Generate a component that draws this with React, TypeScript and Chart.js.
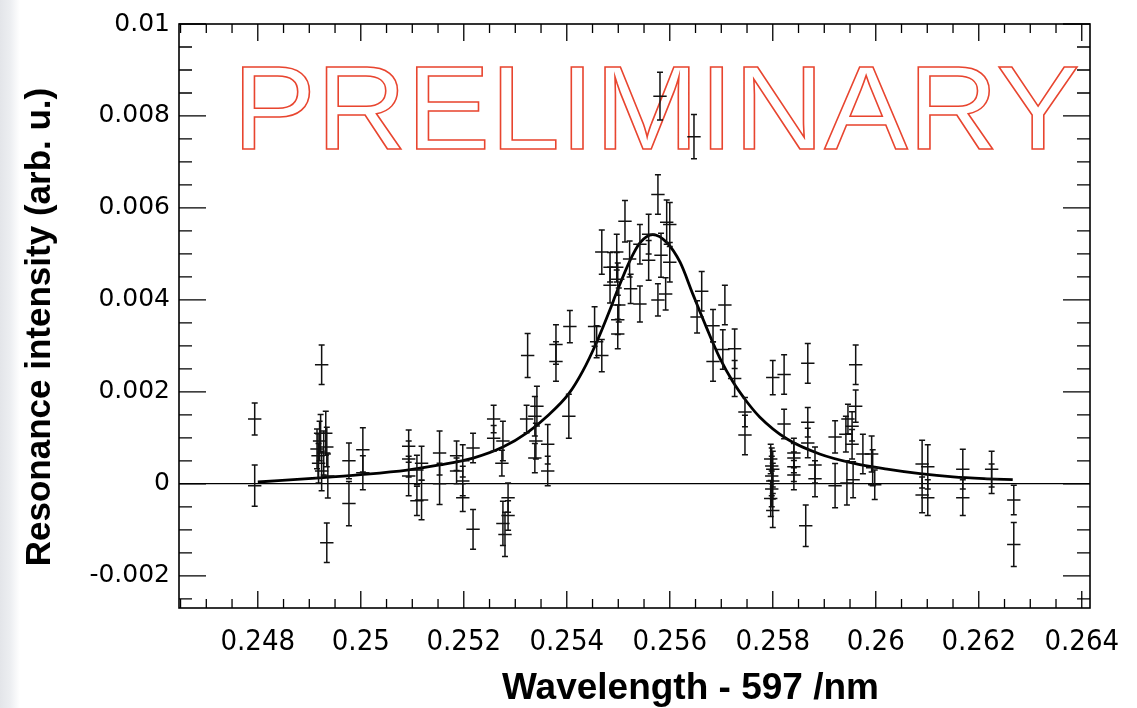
import { useEffect, useRef } from "react";
import { Chart, registerables } from "chart.js";

Chart.register(...registerables);

// ---- measured points (wavelength - 597 nm, resonance intensity, vertical error) ----
const wavelength = [
  0.24794, 0.24794, 0.24924, 0.24915, 0.24917, 0.24918, 0.2492, 0.24922, 0.24924, 0.24928,
  0.24932, 0.24934, 0.24936, 0.24934, 0.24977, 0.24977, 0.25004, 0.25004, 0.25093, 0.25093,
  0.25093, 0.25109, 0.25109, 0.25118, 0.25118, 0.25153, 0.25153, 0.25186, 0.25186, 0.25198,
  0.25198, 0.25198, 0.25218, 0.25218, 0.25258, 0.25258, 0.25276, 0.25274, 0.25286, 0.25276,
  0.2528, 0.25286, 0.25324, 0.25322, 0.25342, 0.25338, 0.2534, 0.25338, 0.25363, 0.25363,
  0.25404, 0.25379, 0.25379, 0.25406, 0.25454, 0.25458, 0.25468, 0.25468, 0.25484, 0.25484,
  0.25497, 0.25497, 0.25499, 0.25501, 0.25499, 0.25499, 0.25513, 0.25522, 0.25524, 0.25542,
  0.25542, 0.25559, 0.25559, 0.25577, 0.25577, 0.25583, 0.25581, 0.25594, 0.256, 0.25592,
  0.256, 0.25647, 0.25653, 0.25662, 0.25684, 0.25707, 0.25684, 0.25703, 0.25726, 0.25726,
  0.25746, 0.25746, 0.258, 0.25822, 0.25868, 0.25961, 0.25961, 0.25822, 0.25868, 0.25868,
  0.25921, 0.25942, 0.25954, 0.25954, 0.25946, 0.25796, 0.25798, 0.258, 0.25798, 0.258,
  0.25798, 0.25796, 0.258, 0.25841, 0.25841, 0.25841, 0.25841, 0.25864, 0.25882, 0.25882,
  0.25921, 0.25944, 0.25956, 0.25975, 0.25992, 0.25994, 0.25998, 0.2609, 0.2609, 0.26101,
  0.26101, 0.26169, 0.26169, 0.26225, 0.26225, 0.26268, 0.26268,
];
const intensity = [
  0.00141, -0.00004, 0.00259, 0.00076, 0.00061, 0.00045, 0.00093, 0.0011, 0.00028, 0.00067,
  0.0011, 0.0008, 0.00017, -0.00128, 0.0005, -0.00043, 0.00074, 0.00024, 0.00082, 0.00054,
  0.00017, 0.0003, -0.00037, 0.00045, -0.00035, 0.00067, 0.0, 0.00061, 0.00028, 0.0005,
  0.00006, -0.0003, 0.00078, -0.00099, 0.00141, 0.00099, 0.00093, 0.00045, -0.0003, -0.00086,
  -0.0011, -0.00069, 0.00279, 0.00141, 0.00169, 0.00147, 0.00093, 0.00056, 0.00086, 0.00028,
  0.00147, 0.00303, 0.00266, 0.00342, 0.00342, 0.00309, 0.00279, 0.00504, 0.00471, 0.00432,
  0.00504, 0.00471, 0.00445, 0.00389, 0.00357, 0.00326, 0.00571, 0.00489, 0.00424, 0.00521,
  0.00391, 0.00543, 0.00486, 0.00629, 0.004, 0.00497, 0.00843, 0.00569, 0.00564, 0.00413,
  0.00482, 0.00755, 0.00363, 0.00419, 0.00344, 0.00389, 0.00266, 0.00292, 0.00294, 0.00229,
  0.00156, 0.00106, 0.00231, 0.00238, 0.00262, 0.00259, 0.00169, 0.0013, 0.00134, 0.00089,
  0.00102, 0.00108, 0.00125, 0.00086, 0.00141, 0.00054, 0.00039, 0.00032, 0.00017, 0.00006,
  -0.00011, -0.00032, -0.00058, 0.00067, 0.00056, 0.00037, 0.00019, -0.00091, 0.00041, 0.00011,
  -0.00004, 0.00002, 0.00009, 0.00065, 0.00065, 0.00035, -0.00002, 0.00043, -0.00024, 0.00037,
  -0.0003, 0.00032, -0.0003, 0.00032, 0.00011, -0.00035, -0.00132,
];
const intensityErr = [
  0.00035, 0.00045, 0.00043, 0.00043, 0.00048, 0.00043, 0.00043, 0.00041, 0.00043, 0.00048,
  0.00048, 0.00043, 0.00048, 0.00043, 0.00039, 0.00048, 0.00048, 0.00037, 0.00035, 0.00039,
  0.00043, 0.00032, 0.00032, 0.00037, 0.00043, 0.00048, 0.00045, 0.00032, 0.00028, 0.00035,
  0.00032, 0.0003, 0.00032, 0.00043, 0.0003, 0.00028, 0.00043, 0.00028, 0.00032, 0.00048,
  0.00048, 0.00032, 0.00048, 0.0003, 0.00043, 0.00043, 0.00039, 0.00032, 0.00043, 0.00032,
  0.00048, 0.00043, 0.00043, 0.00035, 0.00043, 0.00035, 0.00035, 0.00048, 0.00032, 0.00039,
  0.00039, 0.00032, 0.00035, 0.00037, 0.00032, 0.00032, 0.00045, 0.00039, 0.00032, 0.00043,
  0.00039, 0.00043, 0.00043, 0.00043, 0.00035, 0.00048, 0.00052, 0.00048, 0.00048, 0.00035,
  0.00043, 0.00048, 0.00035, 0.00043, 0.00035, 0.00043, 0.00043, 0.00043, 0.00043, 0.00039,
  0.00032, 0.00043, 0.00037, 0.00043, 0.00043, 0.00043, 0.00035, 0.00032, 0.00032, 0.00032,
  0.00035, 0.00039, 0.00032, 0.00032, 0.00032, 0.00032, 0.00039, 0.00039, 0.00043, 0.00039,
  0.00039, 0.00039, 0.00037, 0.00032, 0.00032, 0.00032, 0.00032, 0.00045, 0.00039, 0.00039,
  0.00048, 0.00048, 0.00039, 0.00043, 0.00039, 0.00039, 0.00032, 0.00052, 0.00039, 0.00048,
  0.00039, 0.00043, 0.00039, 0.00039, 0.00032, 0.00032, 0.00048,
];
const wavelengthErr = 0.00013;

// ---- fitted curve ----
const fitX = [
  0.248, 0.2492, 0.25, 0.2509, 0.25153, 0.25218, 0.25276, 0.25324, 0.25363, 0.25404,
  0.25431, 0.25458, 0.25484, 0.25497, 0.25522, 0.25542, 0.25567, 0.25594, 0.2562, 0.25645,
  0.25672, 0.25697, 0.25722, 0.2575, 0.25775, 0.25827, 0.25891, 0.25956, 0.26022, 0.26086,
  0.2615, 0.26216, 0.26266,
];
const fitY = [
  0.00004, 0.00013, 0.0002, 0.0003, 0.00041, 0.00056, 0.0008, 0.00112, 0.00148, 0.00196,
  0.00245, 0.00308, 0.00379, 0.00417, 0.00484, 0.00524, 0.00542, 0.00525, 0.00482, 0.00412,
  0.00338, 0.00274, 0.00223, 0.00178, 0.00145, 0.00098, 0.00065, 0.00045, 0.00032, 0.00022,
  0.00015, 0.00011, 0.00009,
];

// ---- axes ----
const xTickValues = [0.248, 0.25, 0.252, 0.254, 0.256, 0.258, 0.26, 0.262, 0.264];
const xTickLabels = ["0.248", "0.25", "0.252", "0.254", "0.256", "0.258", "0.26", "0.262", "0.264"];
const yTickValues = [-0.002, 0, 0.002, 0.004, 0.006, 0.008, 0.01];
const yTickLabels = ["-0.002", "0", "0.002", "0.004", "0.006", "0.008", "0.01"];
const X_MIN = 0.24647;
const X_MAX = 0.26416;
const Y_MIN = -0.0027;
const Y_MAX = 0.01;
const X_MINOR_STEP = 0.0005;
const Y_MINOR_STEP = 0.0005;
const xTitle = "Wavelength - 597 /nm";
const yTitle = "Resonance intensity (arb. u.)";

const watermarkText = "PRELIMINARY";
const watermarkLeft = 0.24751;
const watermarkRight = 0.26396;
const watermarkBaseline = 0.00728;

const decorations = {
  id: "decorations",
  beforeDatasetsDraw(chart: any) {
    const { ctx, scales } = chart;
    const x = scales.x;
    const y = scales.y;
    ctx.save();
    const px = x.getPixelForValue(watermarkLeft);
    const py = y.getPixelForValue(watermarkBaseline);
    ctx.font = '119px "Liberation Sans", Arial, sans-serif';
    const w = ctx.measureText(watermarkText).width;
    const target = x.getPixelForValue(watermarkRight) - px;
    ctx.translate(px, py);
    ctx.scale(target / w, 1);
    ctx.lineWidth = 1.5;
    ctx.strokeStyle = "#e8452f";
    ctx.strokeText(watermarkText, 0, 0);
    ctx.restore();
  },
  afterDatasetsDraw(chart: any) {
    const { ctx, scales, chartArea } = chart;
    const x = scales.x;
    const y = scales.y;
    ctx.save();
    // error bars
    ctx.strokeStyle = "#111";
    ctx.lineWidth = 1.5;
    const cap = 3;
    for (let i = 0; i < wavelength.length; i++) {
      const cx = x.getPixelForValue(wavelength[i]);
      const cy = y.getPixelForValue(intensity[i]);
      const yTop = y.getPixelForValue(intensity[i] + intensityErr[i]);
      const yBot = y.getPixelForValue(intensity[i] - intensityErr[i]);
      const xL = x.getPixelForValue(wavelength[i] - wavelengthErr);
      const xR = x.getPixelForValue(wavelength[i] + wavelengthErr);
      ctx.beginPath();
      ctx.moveTo(cx, yTop);
      ctx.lineTo(cx, yBot);
      ctx.moveTo(cx - cap, yTop);
      ctx.lineTo(cx + cap, yTop);
      ctx.moveTo(cx - cap, yBot);
      ctx.lineTo(cx + cap, yBot);
      ctx.moveTo(xL, cy);
      ctx.lineTo(xR, cy);
      ctx.stroke();
    }
    // frame
    ctx.strokeStyle = "#000";
    ctx.lineWidth = 1.6;
    const { left, right, top, bottom } = chartArea;
    ctx.strokeRect(left, top, right - left, bottom - top);
    // inner ticks
    ctx.lineWidth = 1.3;
    ctx.beginPath();
    const xStart = Math.ceil(X_MIN / X_MINOR_STEP - 1e-9);
    const xEnd = Math.floor(X_MAX / X_MINOR_STEP + 1e-9);
    for (let k = xStart; k <= xEnd; k++) {
      const v = k * X_MINOR_STEP;
      const major = xTickValues.some((t) => Math.abs(t - v) < 1e-9);
      const len = major ? 17 : 9;
      const p = x.getPixelForValue(v);
      ctx.moveTo(p, bottom);
      ctx.lineTo(p, bottom - len);
      ctx.moveTo(p, top);
      ctx.lineTo(p, top + len);
    }
    const yStart = Math.ceil(Y_MIN / Y_MINOR_STEP - 1e-9);
    const yEnd = Math.floor(Y_MAX / Y_MINOR_STEP + 1e-9);
    for (let k = yStart; k <= yEnd; k++) {
      const v = k * Y_MINOR_STEP;
      const major = yTickValues.some((t) => Math.abs(t - v) < 1e-9);
      const len = major ? 27 : 13;
      const p = y.getPixelForValue(v);
      ctx.moveTo(left, p);
      ctx.lineTo(left + len, p);
      ctx.moveTo(right, p);
      ctx.lineTo(right - len, p);
    }
    ctx.stroke();

    // axis titles
    ctx.fillStyle = "#000";
    ctx.font = 'bold 37px "Liberation Sans", Arial, sans-serif';
    ctx.textAlign = "center";
    ctx.textBaseline = "alphabetic";
    ctx.fillText(xTitle, (left + right) / 2 + 56, bottom + 91);
    ctx.translate(left - 139, (top + bottom) / 2 + 11);
    ctx.rotate(-Math.PI / 2);
    ctx.font = 'bold 35px "Liberation Sans", Arial, sans-serif';
    ctx.textBaseline = "middle";
    ctx.fillText(yTitle, 0, 0);
    ctx.restore();
  },
};

export default function App() {
  const canvasRef = useRef<HTMLCanvasElement | null>(null);

  useEffect(() => {
    const canvas = canvasRef.current;
    if (!canvas) return;
    const chart = new Chart(canvas, {
      type: "scatter",
      data: {
        datasets: [
          {
            type: "line",
            label: "fit",
            data: fitX.map((v, i) => ({ x: v, y: fitY[i] })),
            borderColor: "#000",
            borderWidth: 2.8,
            pointRadius: 0,
            cubicInterpolationMode: "monotone",
            fill: false,
          },
          {
            label: "data",
            data: wavelength.map((v, i) => ({ x: v, y: intensity[i] })),
            pointRadius: 0,
            pointHoverRadius: 0,
            borderColor: "#000",
            backgroundColor: "#000",
          },
        ],
      } as any,
      options: {
        responsive: false,
        animation: false,
        layout: { padding: { left: 19, right: 47, top: 20, bottom: 0 } },
        plugins: { legend: { display: false }, tooltip: { enabled: false } },
        scales: {
          x: {
            type: "linear",
            min: X_MIN,
            max: X_MAX,
            afterBuildTicks: (scale: any) => {
              scale.ticks = xTickValues.map((v) => ({ value: v }));
            },
            afterFit: (scale: any) => {
              scale.height = 100;
            },
            grid: { display: false, drawTicks: false },
            border: { display: false },
            ticks: {
              padding: 17,
              color: "#000",
              maxRotation: 0,
              autoSkip: false,
              font: { family: "'Liberation Sans Narrow', 'DejaVu Sans Condensed', sans-serif", size: 29 },
              callback: (_v: any, i: number) => xTickLabels[i],
            },
          },
          y: {
            type: "linear",
            min: Y_MIN,
            max: Y_MAX,
            afterBuildTicks: (scale: any) => {
              scale.ticks = yTickValues.map((v) => ({ value: v }));
            },
            afterFit: (scale: any) => {
              scale.width = 160;
            },
            grid: {
              display: true,
              drawTicks: false,
              lineWidth: 1.2,
              color: (c: any) => (c.tick && Math.abs(c.tick.value) < 1e-12 ? "#000" : "rgba(0,0,0,0)"),
            },
            border: { display: false },
            ticks: {
              padding: 9,
              color: "#000",
              autoSkip: false,
              font: { family: "'DejaVu Sans', sans-serif", size: 25 },
              callback: (_v: any, i: number) => yTickLabels[i],
            },
          },
        },
      } as any,
      plugins: [decorations],
    });
    return () => chart.destroy();
  }, []);

  return (
    <div
      style={{
        position: "absolute",
        left: 0,
        top: 0,
        width: 1137,
        height: 708,
        background: "linear-gradient(to right, #e3e5e9 0px, #eceef1 10px, #ffffff 20px)",
      }}
    >
      <canvas ref={canvasRef} width={1137} height={708} style={{ display: "block" }} />
    </div>
  );
}
